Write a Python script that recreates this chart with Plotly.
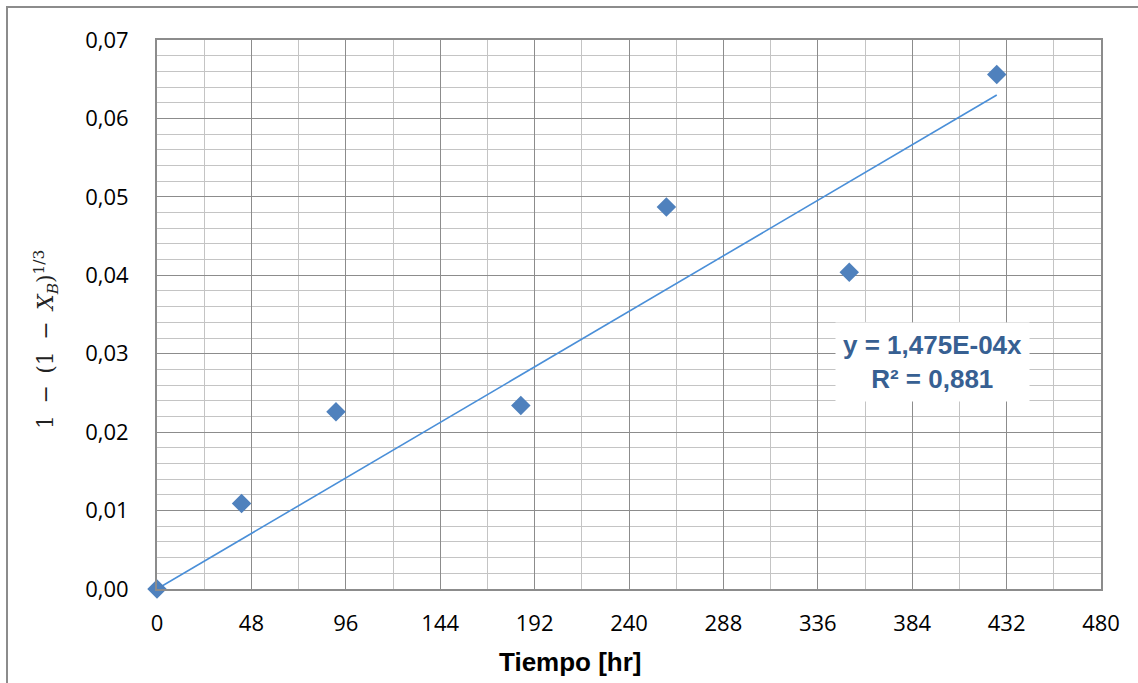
import plotly.graph_objects as go

# Data
tiempo_hr = [0, 43, 91, 185, 259, 352, 427]
conversion_fn = [0.0, 0.0109, 0.0226, 0.0234, 0.0487, 0.0404, 0.0656]
trend_slope = 1.475e-4
r_squared = 0.881
x_ticks = [0, 48, 96, 144, 192, 240, 288, 336, 384, 432, 480]
y_ticks = [0.00, 0.01, 0.02, 0.03, 0.04, 0.05, 0.06, 0.07]

W, H = 1138, 683
L, R, T, B = 157, 37, 40, 94
pw, ph = W - L - R, H - T - B

trend_x = [0, max(tiempo_hr)]
trend_y = [trend_slope * v for v in trend_x]

fig = go.Figure()
fig.add_trace(go.Scatter(x=trend_x, y=trend_y, mode="lines",
                         line=dict(color="#4A8FD8", width=1.6),
                         hoverinfo="skip", showlegend=False))
fig.add_trace(go.Scatter(x=tiempo_hr, y=conversion_fn, mode="markers",
                         marker=dict(symbol="diamond", size=15, color="#4F81BD"),
                         showlegend=False, cliponaxis=False))

tick_font = dict(family="Open Sans, Liberation Sans, Arial", size=22, color="#000000")

fig.update_xaxes(range=[0, 480], tickvals=x_ticks, ticktext=[str(v) for v in x_ticks],
                 showgrid=True, gridcolor="#8C8C8C", gridwidth=1.3,
                 minor=dict(dtick=24, tick0=0, showgrid=True, gridcolor="#C4C4C4", gridwidth=1.3),
                 showline=True, linecolor="#8C8C8C", linewidth=2, mirror=True,
                 zeroline=False, ticks="", tickfont=tick_font, ticklabelstandoff=14)
fig.update_yaxes(range=[0, 0.07], tickvals=y_ticks, tickformat=".2f",
                 showgrid=True, gridcolor="#8C8C8C", gridwidth=1.3,
                 minor=dict(dtick=0.002, tick0=0, showgrid=True, gridcolor="#C4C4C4", gridwidth=1.3),
                 showline=True, linecolor="#8C8C8C", linewidth=2, mirror=True,
                 zeroline=False, ticks="", tickfont=tick_font, ticklabelstandoff=22)

def px_x(p):
    return (p - L) / pw

def px_y(p):
    return 1 - (p - T) / ph

ts = "\u2009"
ytitle = ("1 " + ts + "−" + ts + " (1 " + ts + "−" + ts + " <i>X</i><sub><i>B</i></sub>)"
          "<sup>1/3</sup>")

annotations = [
    dict(text="<b>Tiempo [hr]</b>", x=px_x(570), y=px_y(662), xref="paper", yref="paper",
         showarrow=False, font=dict(family="Liberation Sans, Arial", size=26, color="#000000"),
         xanchor="center", yanchor="middle"),
    dict(text=ytitle, x=px_x(46), y=px_y(340),
         xref="paper", yref="paper", textangle=-90, showarrow=False,
         font=dict(family="DejaVu Serif, Liberation Serif, serif", size=22, color="#222222"),
         xanchor="center", yanchor="middle"),
    dict(text="<b>y = 1,475E-04x</b><br><b>R² = " + f"{r_squared:.3f}".replace(".", ",") + "</b>",
         x=px_x(932), y=px_y(362), xref="paper", yref="paper", showarrow=False,
         font=dict(family="Liberation Sans, Arial", size=26, color="#376092"),
         bgcolor="#FFFFFF", borderpad=7, xanchor="center", yanchor="middle"),
]

shapes = [
    dict(type="rect", xref="paper", yref="paper",
         x0=px_x(7), x1=px_x(1150), y0=px_y(7), y1=px_y(700),
         line=dict(color="#8C8C8C", width=2), fillcolor="rgba(0,0,0,0)", layer="below"),
]

fig.update_layout(width=W, height=H, margin=dict(l=L, r=R, t=T, b=B),
                  paper_bgcolor="#FFFFFF", plot_bgcolor="#FFFFFF",
                  separators=",.", annotations=annotations, shapes=shapes,
                  showlegend=False)

fig.write_html("out.html")
